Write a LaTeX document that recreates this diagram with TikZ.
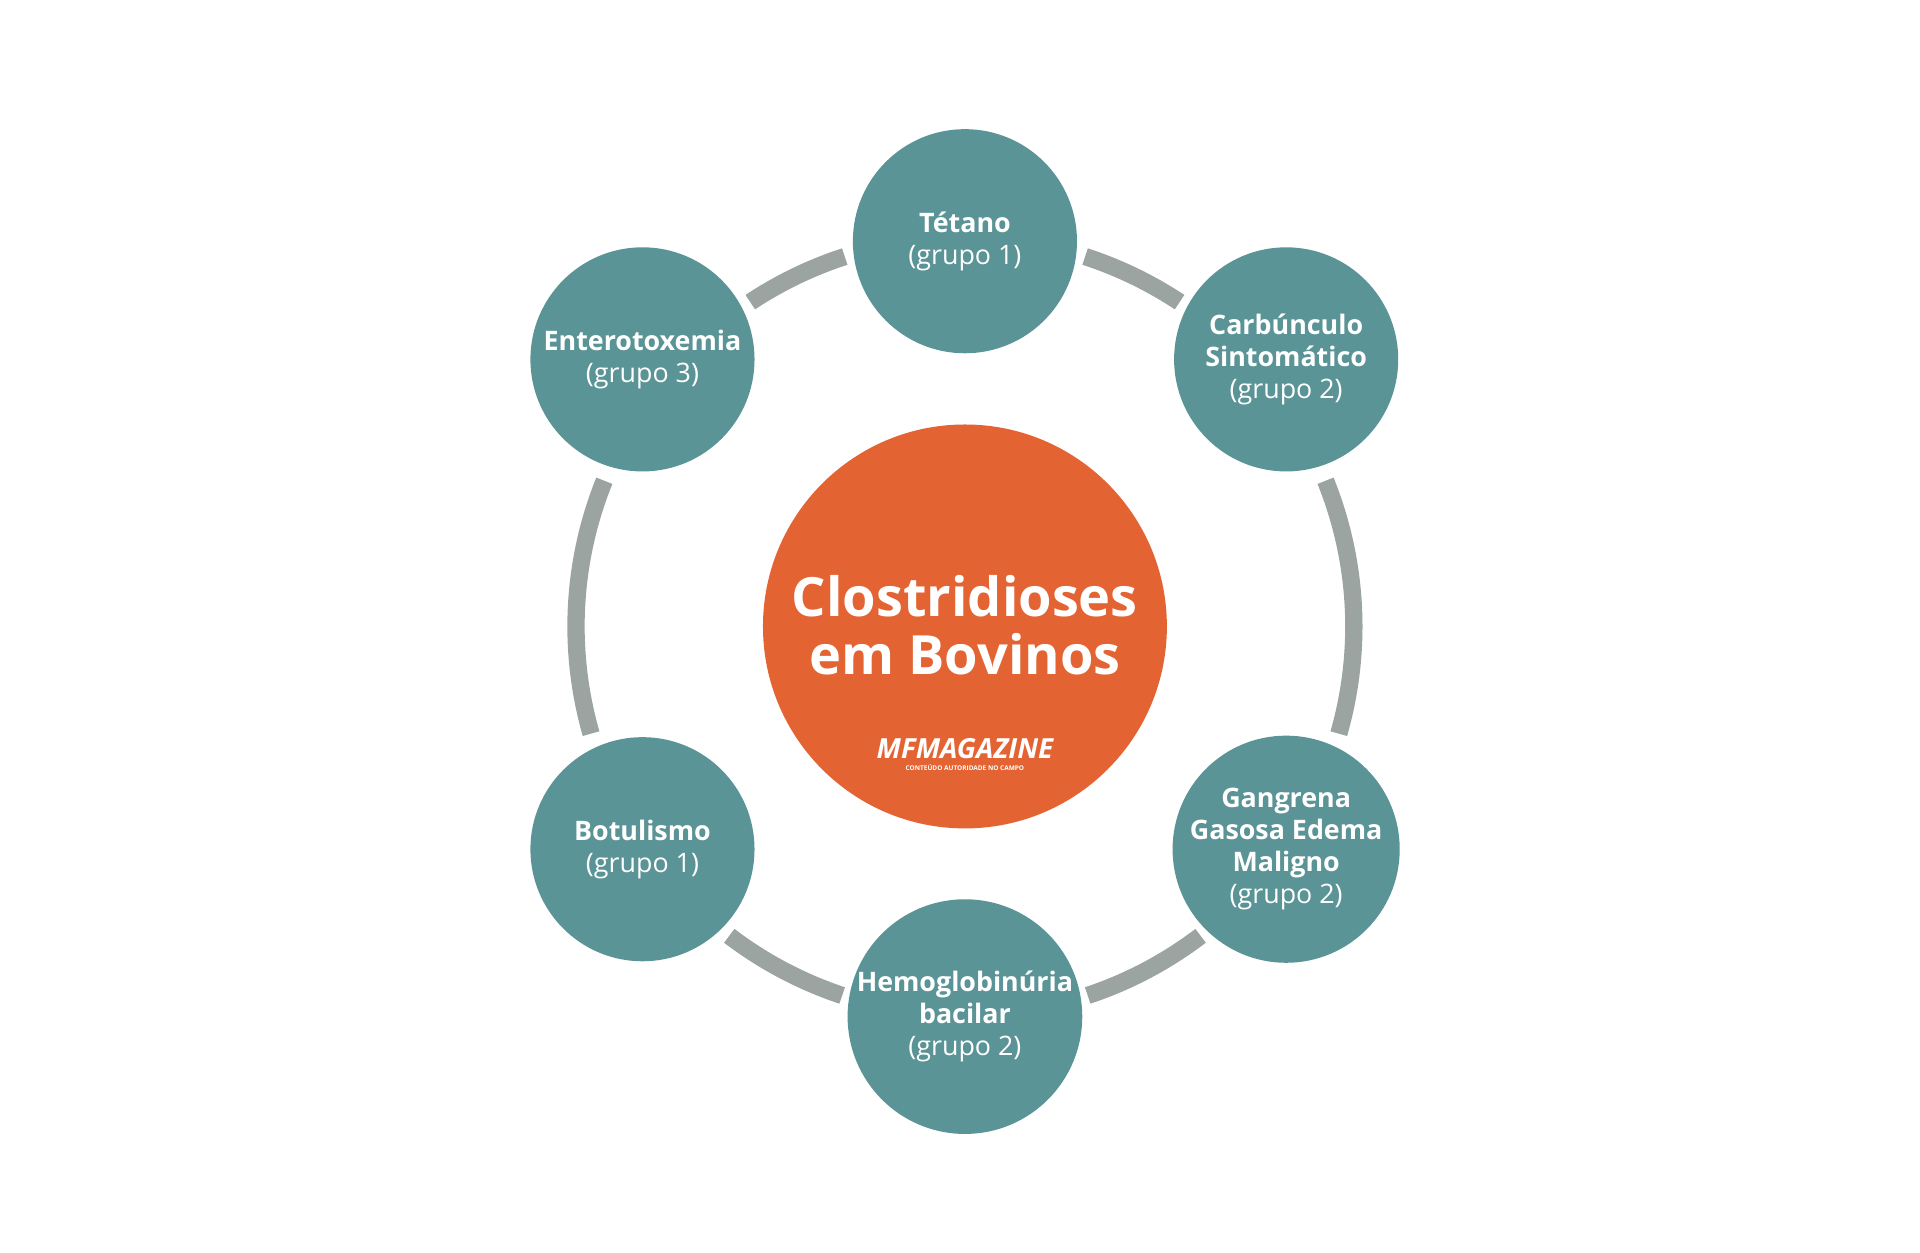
\documentclass[tikz,border=0pt]{standalone}
\usepackage{fontspec}
\setmainfont{Open Sans}
\usetikzlibrary{positioning}
\definecolor{tealc}{RGB}{91,148,150}
\definecolor{orangec}{RGB}{227,99,50}
\definecolor{ringc}{RGB}{156,164,161}

\begin{document}
\begin{tikzpicture}[x=0.01cm, y=0.01cm,
    small/.style={circle, fill=tealc, minimum size=1.82cm, inner sep=0pt, text=white, align=center, font=\fontsize{6.2}{7.4}\selectfont},
    big/.style={circle, fill=orangec, minimum size=3.28cm, inner sep=0pt, text=white},
    ring/.style={line width=4pt, draw=ringc}]
    \useasboundingbox[fill=white] (0,0) rectangle (1560,1018);
    \coordinate (c) at (784,509);

    % connecting ring
    \draw[ring] (c) ++(72:316) arc (72:56.5:316);
    \draw[ring] (c) ++(22:316) arc (22:-16:316);
    \draw[ring] (c) ++(-52.7:316) arc (-52.7:-71.6:316);
    \draw[ring] (c) ++(108:316) arc (108:123.5:316);
    \draw[ring] (c) ++(158:316) arc (158:196:316);
    \draw[ring] (c) ++(232.7:316) arc (232.7:251.6:316);

    \node[big] (center) at (c) {};
    \node[font=\fontsize{12.5}{13.5}\selectfont\bfseries, text=white, align=center] (title) at (784,510) {Clostridioses\\em Bovinos};
    \node[font=\fontsize{6.4}{7}\selectfont\bfseries\itshape, text=white, inner sep=0pt] (logo) at (784,410) {MFMAGAZINE};
    \node[font=\fontsize{1.5}{2}\selectfont\bfseries, text=white, inner sep=0pt, below=1pt of logo] (tagline) {CONTEÚDO AUTORIDADE NO CAMPO};

    \node[small] (tetano) at (784,822) {\textbf{Tétano}\\(grupo 1)};
    \node[small] (carbunculo) at (1045,726) {\textbf{Carbúnculo}\\\textbf{Sintomático}\\(grupo 2)};
    \node[small] (gangrena) at (1045,328) {\textbf{Gangrena}\\\textbf{Gasosa Edema}\\\textbf{Maligno}\\(grupo 2)};
    \node[small] (hemo) at (784,192) {\textbf{Hemoglobinúria}\\\textbf{bacilar}\\(grupo 2)};
    \node[small] (botulismo) at (522,328) {\textbf{Botulismo}\\(grupo 1)};
    \node[small] (entero) at (522,726) {\textbf{Enterotoxemia}\\(grupo 3)};
\end{tikzpicture}
\end{document}
